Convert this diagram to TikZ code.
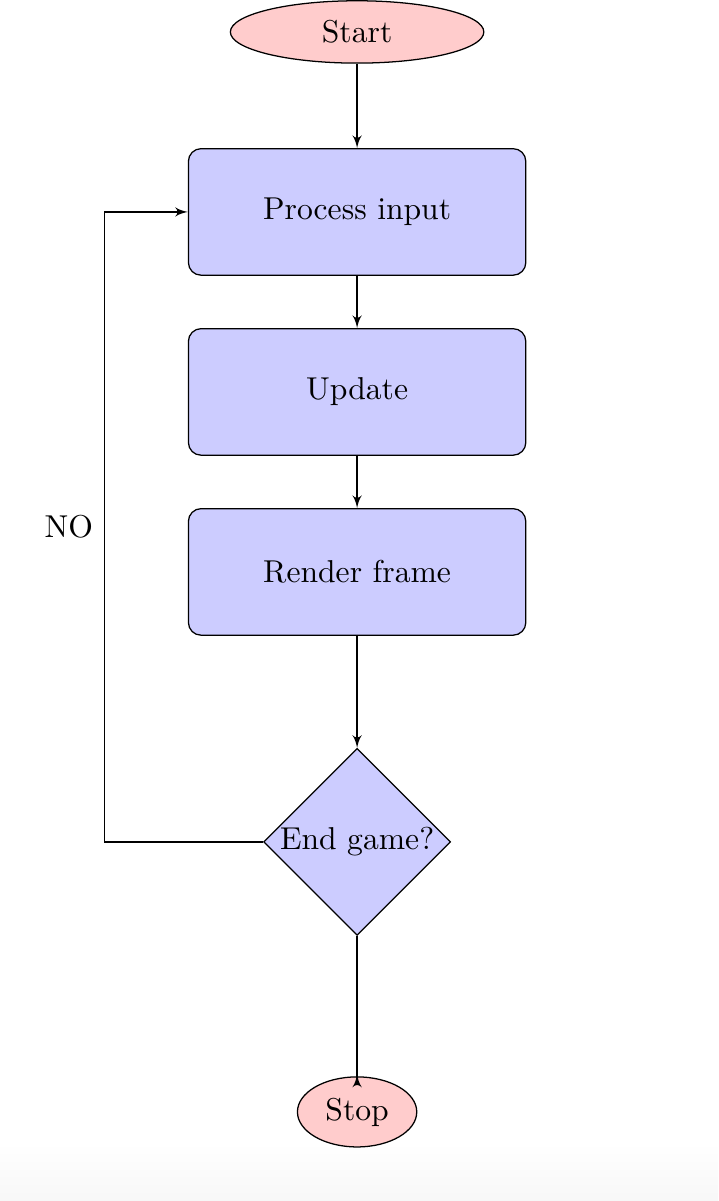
\documentclass[tikz,border=0pt]{standalone}
\usepackage{tikz}
\usetikzlibrary{shapes, arrows, positioning}

\begin{document}
\begin{tikzpicture}[node distance=2cm, on grid, auto,
    block/.style={rectangle, draw, fill=blue!20, text width=10em, text centered, rounded corners, minimum height=4em},
    decision/.style={diamond, draw, fill=blue!20, text width=5em, text centered, inner sep=0pt},
    cloud/.style={ellipse, draw, fill=red!20},
    line/.style={draw, -latex'}]

    \useasboundingbox (-112.9pt,10.1pt) rectangle (114.1pt,-369.6pt);
    \shade[top color=white, bottom color=black!3] (-112.9pt,-351pt) rectangle (114.1pt,-369.6pt);

      \node[cloud, text width=5em, text centered] (start)  {Start};
      \node[block]    (process) [below=of start]     {Process input};
      \node[block]    (update)  [below=of process]   {Update};
      \node[block]    (render)  [below=of update]    {Render frame};
      \node[decision] (decide)  [below=3cm of render] {End game?};
      \node[cloud]    (stop)    [below=3cm of decide] {Stop};
      \coordinate[left=2.81cm of decide] (back);

      \path[line] (start) -- (process);
      \path[line] (process) -- (update);
      \path[line] (update) -- (render);
      \path[line] (render) -- (decide);
      \path[line] (decide) -- (back) |- node[near start, left] {NO} (process);
      \path[draw, -latex' reversed] (decide) -- ([yshift=-3.5pt]stop.north);
    \end{tikzpicture}
\end{document}
